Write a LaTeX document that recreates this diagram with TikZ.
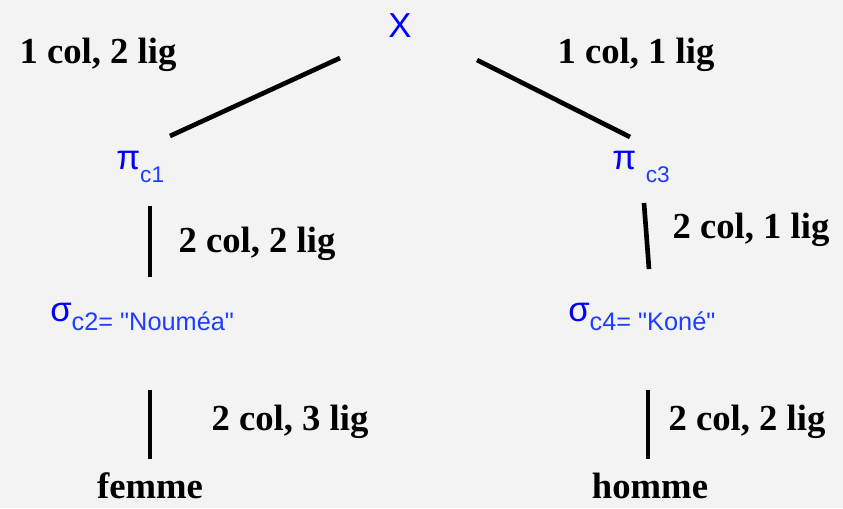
\documentclass[tikz,border=0pt]{standalone}
\usepackage{fontspec}
\setmainfont{Liberation Serif}
\newfontfamily\arialfont{Liberation Sans}
\usepackage{tikz}
\usetikzlibrary{positioning}
\definecolor{opblue}{HTML}{0000FF}
\definecolor{subblue}{HTML}{1E3EFF}
\definecolor{slidegray}{HTML}{F3F3F3}

% subscript of an operator: drop, size, text
\newcommand{\opsub}[3]{\raisebox{-#1}{\color{subblue}\fontsize{#2}{#2}\selectfont #3}}

\begin{document}
\begin{tikzpicture}[x=0.75pt, y=-0.75pt,
    op/.style={text=opblue, font=\arialfont\fontsize{26}{26}\selectfont, inner sep=0pt, anchor=base west},
    card/.style={font=\bfseries\fontsize{27.5}{27.5}\selectfont, inner sep=0pt, anchor=base},
    edge/.style={line width=3.5pt}]

    \fill[slidegray] (0,0) rectangle (843,508);

    % operators
    \node[op, anchor=base] (join) at (400,37) {X};
    \node[op] (proj1) at (116,169) {π\opsub{10pt}{17}{c1}};
    \node[op] (proj3) at (612,169) {π \opsub{10pt}{17}{c3}};
    \node[op] (sel2) at (50,321) {σ\opsub{7pt}{19}{c2= "Nouméa"}};
    \node[op] (sel4) at (568,321) {σ\opsub{7pt}{19}{c4= "Koné"}};

    % tables
    \node[card] (femme) at (150,498) {femme};
    \node[card] (homme) at (650,498) {homme};

    % sizes
    \node[card] (size-join-l) at (98,63) {1 col, 2 lig};
    \node[card] (size-join-r) at (636,63) {1 col, 1 lig};
    \node[card] (size-proj1) at (257,252) {2 col, 2 lig};
    \node[card] (size-proj3) at (751,238) {2 col, 1 lig};
    \node[card] (size-sel2) at (290,430) {2 col, 3 lig};
    \node[card] (size-sel4) at (747,430) {2 col, 2 lig};

    % tree edges
    \draw[edge] ([shift={(-60,21)}]join.base) -- ([shift={(54,-33)}]proj1.base west);
    \draw[edge] ([shift={(77,23)}]join.base) -- ([shift={(18,-32)}]proj3.base west);
    \draw[edge] ([shift={(34,37)}]proj1.base west) -- ([shift={(100,-44)}]sel2.base west);
    \draw[edge] ([shift={(32,34)}]proj3.base west) -- ([shift={(81,-52)}]sel4.base west);
    \draw[edge] ([shift={(100,69)}]sel2.base west) -- ([shift={(0,-39)}]femme.base);
    \draw[edge] ([shift={(80,69)}]sel4.base west) -- ([shift={(-2,-39)}]homme.base);
\end{tikzpicture}
\end{document}
